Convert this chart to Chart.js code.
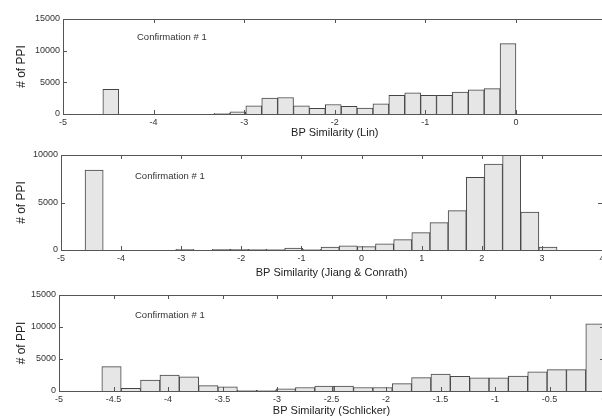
<!DOCTYPE html>
<html>
<head>
<meta charset="utf-8">
<script src="https://cdn.jsdelivr.net/npm/chart.js@4.4.0/dist/chart.umd.min.js"></script>
<style>
  html, body { margin: 0; padding: 0; background: #fff; overflow: hidden; width: 602px; height: 419px; }
  .panel { position: absolute; left: 0; }
  .note { position: absolute; font-family: "Liberation Sans", Arial, sans-serif; font-size: 9.5px; color: #333; line-height: 12px; white-space: nowrap; }
</style>
</head>
<body>
<div class="panel" style="top:0px"><canvas id="lin-chart" width="612" height="140"></canvas></div>
<div class="panel" style="top:140px"><canvas id="jiang-chart" width="612" height="140"></canvas></div>
<div class="panel" style="top:280px"><canvas id="schlicker-chart" width="612" height="139"></canvas></div>
<div class="note" style="left:137px; top:31px">Confirmation # 1</div>
<div class="note" style="left:135px; top:170px">Confirmation # 1</div>
<div class="note" style="left:135px; top:309px">Confirmation # 1</div>
<script>
// histogram bins: first edge, bin width, counts per bin
var linStart = -4.56, linWidth = 0.1754;
var linCounts = [3900, 0, 0, 0, 0, 0, 0, 100, 350, 1300, 2500, 2600, 1300, 900, 1500, 1200, 950, 1600, 2950, 3350, 2950, 2950, 3450, 3800, 4000, 11100];
var linXTicks = [-5, -4, -3, -2, -1, 0, 1];
var linYTicks = [0, 5000, 10000, 15000];

var jiangStart = -4.60, jiangWidth = 0.302;
var jiangCounts = [8400, 0, 0, 0, 0, 60, 0, 60, 60, 60, 40, 200, 80, 300, 450, 350, 660, 1090, 1830, 2880, 4140, 7650, 9050, 10600, 4000, 320];
var jiangXTicks = [-5, -4, -3, -2, -1, 0, 1, 2, 3, 4];
var jiangYTicks = [0, 5000, 10000];

var schStart = -4.607, schWidth = 0.1776;
var schCounts = [3800, 400, 1700, 2500, 2200, 850, 650, 120, 120, 350, 550, 750, 750, 550, 550, 1150, 2100, 2650, 2300, 2050, 2050, 2350, 3000, 3350, 3350, 10500];
var schXTicks = [-5, -4.5, -4, -3.5, -3, -2.5, -2, -1.5, -1, -0.5, 0];
var schYTicks = [0, 5000, 10000, 15000];

var font = "'Liberation Sans', Arial, sans-serif";

// matlab style box with inward ticks
var boxPlugin = {
    id: 'box',
    afterDatasetsDraw: function (chart) {
        var a = chart.chartArea, ctx = chart.ctx;
        var xs = chart.scales.x, ys = chart.scales.y;
        ctx.save();
        ctx.strokeStyle = '#555';
        ctx.lineWidth = 1;
        ctx.strokeRect(Math.round(a.left) + 0.5, Math.round(a.top) + 0.5, Math.round(a.right - a.left), Math.round(a.bottom - a.top));
        ctx.beginPath();
        xs.ticks.forEach(function (t) {
            var px = Math.round(xs.getPixelForValue(t.value)) + 0.5;
            ctx.moveTo(px, a.bottom); ctx.lineTo(px, a.bottom - 4);
            ctx.moveTo(px, a.top); ctx.lineTo(px, a.top + 4);
        });
        ys.ticks.forEach(function (t) {
            var py = Math.round(ys.getPixelForValue(t.value)) + 0.5;
            ctx.moveTo(a.left, py); ctx.lineTo(a.left + 4, py);
            ctx.moveTo(a.right, py); ctx.lineTo(a.right - 4, py);
        });
        ctx.stroke();
        ctx.restore();
    }
};

function makeHist(id, start, width, counts, xTicks, yTicks, xTitle, box) {
    var points = counts.map(function (c, i) {
        return { x: start + (i + 0.5) * width, y: c };
    });
    return new Chart(document.getElementById(id), {
        type: 'bar',
        data: {
            datasets: [{
                data: points,
                backgroundColor: '#e6e6e6',
                borderColor: '#444',
                borderWidth: 1,
                barPercentage: 1,
                categoryPercentage: 1,
                clip: 0
            }]
        },
        plugins: [boxPlugin],
        options: {
            responsive: false,
            animation: false,
            events: [],
            layout: { padding: { left: 0, right: 612 - box.right, top: box.top, bottom: box.padBottom } },
            plugins: { legend: { display: false }, tooltip: { enabled: false } },
            scales: {
                x: {
                    type: 'linear',
                    min: xTicks[0],
                    max: xTicks[xTicks.length - 1],
                    offset: false,
                    grid: { display: false, drawTicks: false },
                    border: { display: false },
                    afterBuildTicks: function (s) { s.ticks = xTicks.map(function (v) { return { value: v }; }); },
                    afterFit: function (s) { s.height = box.xHeight; },
                    ticks: { padding: 3, maxRotation: 0, autoSkip: false, color: '#333', font: { family: font, size: 9 },
                        callback: function (v) { return String(v); } },
                    title: { display: true, text: xTitle, color: '#222', padding: { top: 0, bottom: 0 }, font: { family: font, size: 11 } }
                },
                y: {
                    min: yTicks[0],
                    max: yTicks[yTicks.length - 1],
                    grid: { display: false, drawTicks: false },
                    border: { display: false },
                    afterBuildTicks: function (s) { s.ticks = yTicks.map(function (v) { return { value: v }; }); },
                    afterFit: function (s) { s.width = box.left; },
                    ticks: { padding: 3, color: '#333', font: { family: font, size: 9 }, callback: function (v) { return String(v); } },
                    title: { display: true, text: '# of PPI', color: '#222', padding: { top: 14, bottom: 0 }, font: { family: font, size: 12 } }
                }
            }
        }
    });
}

makeHist('lin-chart', linStart, linWidth, linCounts, linXTicks, linYTicks, 'BP Similarity (Lin)',
    { left: 63, right: 608, top: 19, xHeight: 26, padBottom: 0 });
makeHist('jiang-chart', jiangStart, jiangWidth, jiangCounts, jiangXTicks, jiangYTicks, 'BP Similarity (Jiang & Conrath)',
    { left: 61, right: 602, top: 15, xHeight: 30, padBottom: 0 });
makeHist('schlicker-chart', schStart, schWidth, schCounts, schXTicks, schYTicks, 'BP Similarity (Schlicker)',
    { left: 59, right: 604, top: 15, xHeight: 27, padBottom: 1 });
</script>
</body>
</html>
